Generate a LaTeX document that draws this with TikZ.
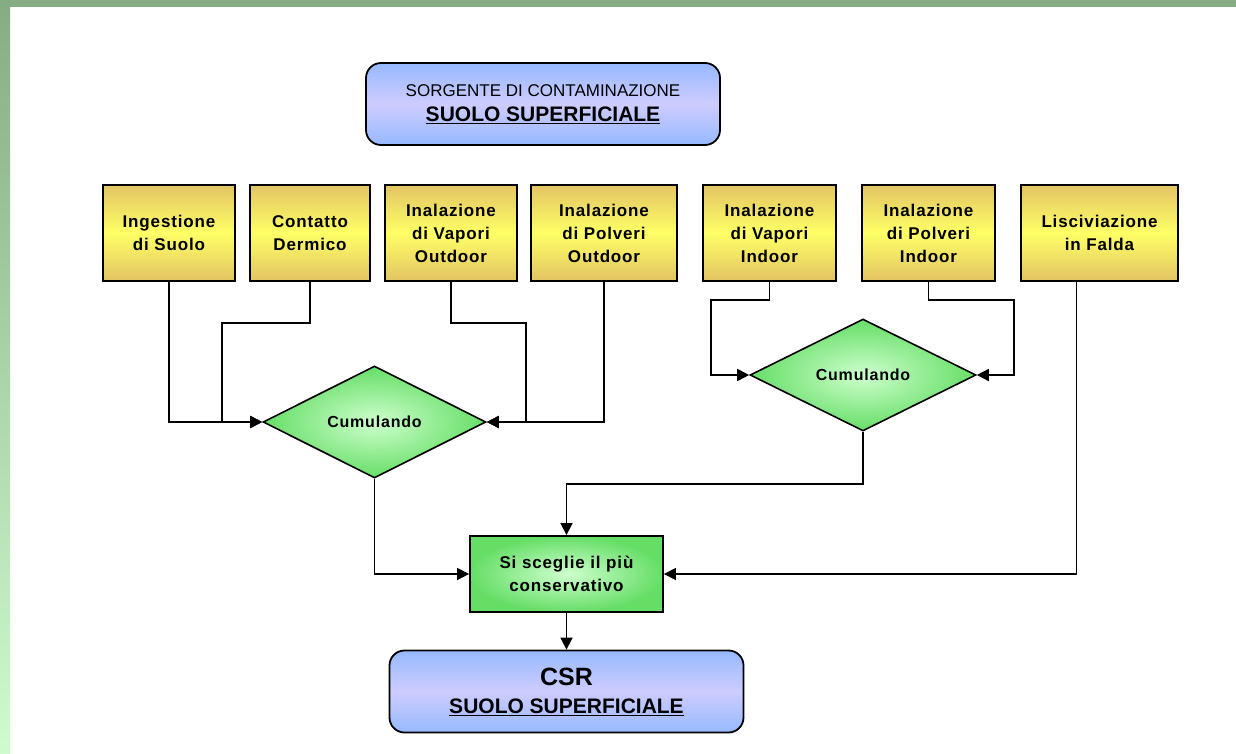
\documentclass[tikz,border=0pt]{standalone}
\usepackage{fontspec}
\setmainfont{Liberation Sans}
\newfontfamily\spacedfont[LetterSpace=5]{Liberation Sans}
\usetikzlibrary{shapes.geometric,arrows.meta,calc}
\definecolor{gold}{RGB}{226,196,100}
\definecolor{yel}{RGB}{255,255,102}
\definecolor{bluA}{RGB}{150,185,255}
\definecolor{lav}{RGB}{206,204,255}
\definecolor{verdeIn}{RGB}{206,255,206}
\definecolor{verdeOut}{RGB}{102,222,102}
\definecolor{bandA}{RGB}{134,172,132}
\definecolor{bandB}{RGB}{206,252,206}
\begin{document}
\begin{tikzpicture}[x=1pt,y=-1pt,
    via/.style={draw,line width=1.8pt,top color=gold,bottom color=gold,middle color=yel,
      align=center,inner sep=0pt,minimum height=96pt,
      font=\spacedfont\bfseries\fontsize{17}{23}\selectfont},
    cumul/.style={diamond,draw,line width=1.6pt,inner sep=0pt,shading=radial,
      inner color=verdeIn,outer color=verdeOut,minimum height=112pt,
      font=\spacedfont\bfseries\fontsize{16}{20}\selectfont},
    scelta/.style={draw,line width=1.8pt,shading=radial,inner color=verdeIn,outer color=verdeOut,
      align=center,inner sep=0pt,minimum width=193pt,minimum height=76pt,
      font=\spacedfont\bfseries\fontsize{17}{23}\selectfont},
    sorgente/.style={draw,line width=1.8pt,rounded corners=15pt,top color=bluA,bottom color=bluA,
      middle color=lav,align=center,inner sep=0pt,minimum width=354pt,minimum height=82pt},
    conn/.style={line width=1.6pt,-{Triangle[length=12pt,width=12pt]}}]
  \useasboundingbox (0,0) rectangle (1236,754);
  % background
  \fill[white] (0,0) rectangle (1236,754);
  \shade[top color=bandA,bottom color=bandB] (0,0) rectangle (10,754);
  \fill[bandA] (0,0) rectangle (1236,7);

  \node[sorgente,font=\fontsize{21}{25}\selectfont] (src) at (543,104)
    {{\fontsize{17}{20}\selectfont SORGENTE DI CONTAMINAZIONE}\\
     \bfseries\underline{SUOLO SUPERFICIALE}};

  \node[via,minimum width=132pt] (ing)  at (169,233)  {Ingestione\\di Suolo};
  \node[via,minimum width=120pt] (der)  at (310,233)  {Contatto\\Dermico};
  \node[via,minimum width=132pt] (vapO) at (451,233)  {Inalazione\\di Vapori\\Outdoor};
  \node[via,minimum width=146pt] (polO) at (604,233)  {Inalazione\\di Polveri\\Outdoor};
  \node[via,minimum width=133pt] (vapI) at (769.5,233) {Inalazione\\di Vapori\\Indoor};
  \node[via,minimum width=133pt] (polI) at (928.5,233) {Inalazione\\di Polveri\\Indoor};
  \node[via,minimum width=157pt] (lisc) at (1099.5,233) {Lisciviazione\\in Falda};

  \node[cumul,minimum width=223pt] (cumA) at (374.5,422) {Cumulando};
  \node[cumul,minimum width=226pt] (cumB) at (863,375)   {Cumulando};

  \node[scelta] (sce) at (566.5,574) {Si sceglie il più\\conservativo};

  \node[sorgente,font=\fontsize{21}{28}\selectfont\bfseries] (csr) at (566.5,691.5)
    {{\fontsize{25}{28}\selectfont CSR}\\
     \underline{SUOLO SUPERFICIALE}};

  \begin{scope}[conn]
    \draw (ing.south) |- (cumA.west);
    \draw (der.south) -- ++(0,41) -| ($(cumA.west)+(-40,0)$) -- (cumA.west);
    \draw (vapO.south) -- ++(0,41) -| ($(cumA.east)+(39,0)$) -- (cumA.east);
    \draw (polO.south) |- (cumA.east);
    \draw (vapI.south) -- ++(0,18) -| ($(cumB.west)+(-38,0)$) -- (cumB.west);
    \draw (polI.south) -- ++(0,18) -| ($(cumB.east)+(37,0)$) -- (cumB.east);
    \draw ([xshift=-23pt]lisc.south) |- (sce.east);
    \draw (cumA.south) |- (sce.west);
    \draw (cumB.south) -- ++(0,52) -| (sce.north);
    \draw (sce.south) -- (csr.north);
  \end{scope}
\end{tikzpicture}
\end{document}
